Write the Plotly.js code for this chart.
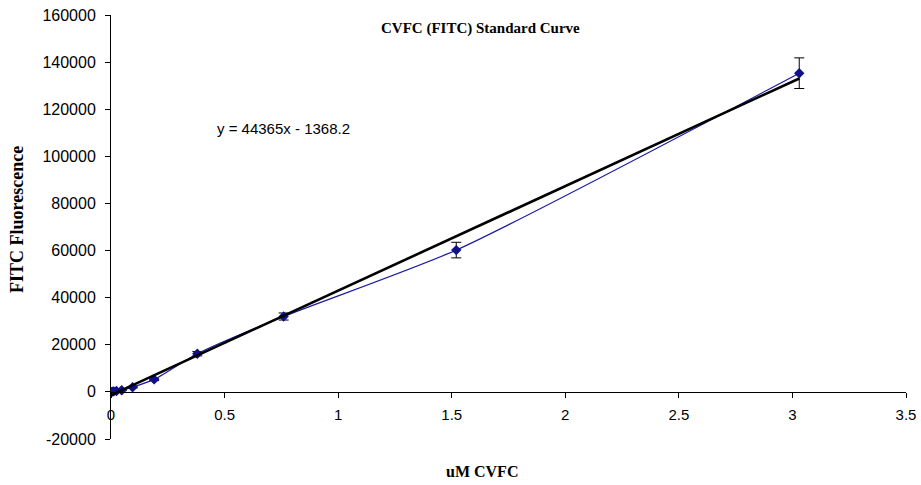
<!DOCTYPE html>
<html>
<head>
<meta charset="utf-8">
<script src="https://cdn.plot.ly/plotly-3.0.1.min.js"></script>
<style>html,body{margin:0;padding:0;background:#fff;}#chart{width:921px;height:485px;}</style>
</head>
<body>
<div id="chart"></div>
<script>
// Data
var concentration = [0, 0.006, 0.012, 0.024, 0.047, 0.095, 0.19, 0.38, 0.76, 1.52, 3.03];
var fluorescence  = [0, 100, 200, 400, 700, 2000, 5300, 16200, 32000, 60200, 135300];
var errors        = [100, 100, 100, 150, 200, 300, 500, 900, 1500, 3300, 6500];
var slope = 44365;
var intercept = -1368.2;
var xTicks = [0, 0.5, 1, 1.5, 2, 2.5, 3, 3.5];
var yTicks = [-20000, 0, 20000, 40000, 60000, 80000, 100000, 120000, 140000, 160000];

var xMin = Math.min.apply(null, concentration);
var xMax = Math.max.apply(null, concentration);
var trendX = [xMin, xMax];
var trendY = trendX.map(function(v){ return slope * v + intercept; });

var data = [
  {
    x: concentration, y: fluorescence, type: 'scatter', mode: 'lines+markers',
    line: {color: '#1a1aa6', width: 1.2, shape: 'spline', smoothing: 0.6},
    marker: {symbol: 'diamond', size: 8, color: '#10108a'},
    error_y: {type: 'data', array: errors, visible: true, color: '#000', thickness: 1, width: 5},
    showlegend: false, hoverinfo: 'skip'
  },
  {
    x: trendX, y: trendY, type: 'scatter', mode: 'lines',
    line: {color: '#000', width: 2.6}, showlegend: false, hoverinfo: 'skip'
  }
];

var yr = [-20000, 160000];
var layout = {
  width: 921, height: 485,
  margin: {l: 111, r: 15, t: 15, b: 46},
  paper_bgcolor: '#fff', plot_bgcolor: '#fff',
  font: {family: 'Liberation Sans, Arial, sans-serif', size: 14, color: '#000'},
  xaxis: {
    range: [0, 3.5], tickvals: xTicks, ticktext: xTicks.map(String),
    showgrid: false, zeroline: false, showline: true, linecolor: '#000', linewidth: 1,
    ticks: 'outside', ticklen: 5, tickcolor: '#000', ticklabelstandoff: 4,
    anchor: 'free', position: (0 - yr[0]) / (yr[1] - yr[0]),
    tickfont: {family: 'Liberation Sans, Arial, sans-serif', size: 15}
  },
  yaxis: {
    range: yr, tickvals: yTicks, ticktext: yTicks.map(String),
    showgrid: false, zeroline: false, showline: true, linecolor: '#000', linewidth: 1,
    ticks: 'outside', ticklen: 5, tickcolor: '#000', ticklabelstandoff: 6,
    tickfont: {family: 'Liberation Sans, Arial, sans-serif', size: 16}
  },
  annotations: [
    {text: '<b>CVFC (FITC) Standard Curve</b>', xref: 'paper', yref: 'paper',
     x: (480 - 111) / 795, y: 1 - (28 - 15) / 424, xanchor: 'center', yanchor: 'middle', showarrow: false,
     font: {family: 'Liberation Serif, Times New Roman, serif', size: 15}},
    {text: '<b>uM CVFC</b>', xref: 'paper', yref: 'paper',
     x: (482 - 111) / 795, y: -(472 - 439) / 424, xanchor: 'center', yanchor: 'middle', showarrow: false,
     font: {family: 'Liberation Serif, Times New Roman, serif', size: 16}},
    {text: '<b>FITC Fluorescence</b>', xref: 'paper', yref: 'paper', textangle: -90,
     x: -(111 - 17) / 795, y: 1 - (220 - 15) / 424, xanchor: 'center', yanchor: 'middle', showarrow: false,
     font: {family: 'Liberation Serif, Times New Roman, serif', size: 18}},
    {text: 'y = 44365x - 1368.2', xref: 'x', yref: 'y', x: 0.76, y: 112000,
     xanchor: 'center', yanchor: 'middle', showarrow: false,
     font: {family: 'Liberation Sans, Arial, sans-serif', size: 15}}
  ]
};
Plotly.newPlot('chart', data, layout, {staticPlot: true, displayModeBar: false});
</script>
</body>
</html>
